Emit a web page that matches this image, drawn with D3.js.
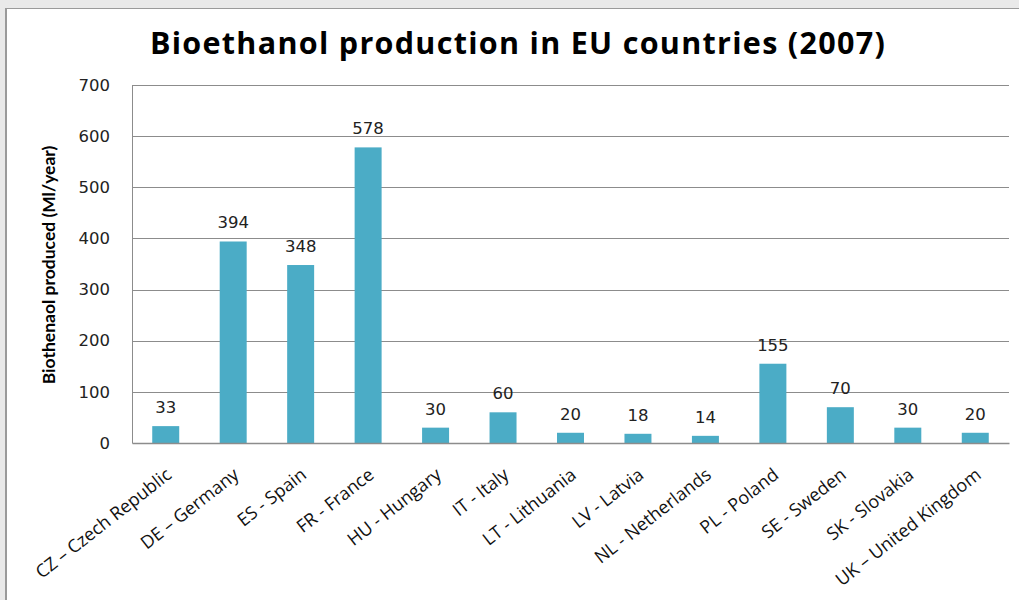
<!DOCTYPE html>
<html>
<head>
<meta charset="utf-8">
<script src="https://cdn.jsdelivr.net/npm/d3@7"></script>
<style>
  body { margin: 0; background: #e9e9e9; }
  svg { display: block; }
</style>
</head>
<body>
<div id="chart"></div>
<script>
// data
const countries = ["CZ \u2013 Czech Republic", "DE \u2013 Germany", "ES - Spain", "FR - France",
  "HU - Hungary", "IT - Italy", "LT - Lithuania", "LV - Latvia", "NL - Netherlands",
  "PL - Poland", "SE - Sweden", "SK - Slovakia", "UK \u2013 United Kingdom"];
const production = [33, 394, 348, 578, 30, 60, 20, 18, 14, 155, 70, 30, 20];
const yTicks = [0, 100, 200, 300, 400, 500, 600, 700];

const width = 1019, height = 600;
const margin = { top: 85, right: 10, bottom: 157, left: 132 };

const svg = d3.select("#chart")
  .append("svg")
  .attr("width", width)
  .attr("height", height);

// chart frame
svg.append("rect")
  .attr("x", 6)
  .attr("y", 8.5)
  .attr("width", width)
  .attr("height", height)
  .attr("fill", "white")
  .attr("stroke", "#9a9a9a")
  .attr("stroke-width", 1);
svg.append("line")
  .attr("x1", 6).attr("x2", 6)
  .attr("y1", 8).attr("y2", height)
  .attr("stroke", "#9a9a9a")
  .attr("stroke-width", 2);

// title
svg.append("text")
  .attr("x", 518)
  .attr("y", 54)
  .attr("text-anchor", "middle")
  .style("font-family", "'Open Sans', sans-serif")
  .style("font-weight", "bold")
  .style("font-size", "30.5px")
  .style("letter-spacing", "1.3px")
  .text("Bioethanol production in EU countries (2007)");

const x = d3.scaleBand()
  .domain(countries)
  .range([margin.left, width - margin.right])
  .paddingInner(0.6)
  .paddingOuter(0.3);

const y = d3.scaleLinear()
  .domain([0, 700])
  .range([height - margin.bottom, margin.top]);

// gridlines
svg.append("g")
  .selectAll("line")
  .data(yTicks.slice(1))
  .enter()
  .append("line")
  .attr("x1", margin.left)
  .attr("x2", width - margin.right)
  .attr("y1", (d) => Math.round(y(d)) + 0.5)
  .attr("y2", (d) => Math.round(y(d)) + 0.5)
  .attr("stroke", "#8c8c8c")
  .attr("stroke-width", 1);

// bars
svg.append("g")
  .selectAll("rect")
  .data(production)
  .enter()
  .append("rect")
  .attr("x", (d, i) => x(countries[i]))
  .attr("y", (d) => y(d))
  .attr("width", x.bandwidth())
  .attr("height", (d) => y(0) - y(d))
  .attr("fill", "#4bacc6");

// value labels
svg.append("g")
  .selectAll("text")
  .data(production)
  .enter()
  .append("text")
  .attr("x", (d, i) => x(countries[i]) + x.bandwidth() / 2)
  .attr("y", (d) => y(d) - 13)
  .attr("text-anchor", "middle")
  .style("font-family", "'DejaVu Sans', sans-serif")
  .style("font-size", "16.5px")
  .attr("fill", "#222")
  .text((d) => d);

// y axis
const yAxis = svg.append("g")
  .attr("transform", `translate(${margin.left},0)`)
  .call(d3.axisLeft(y).tickValues(yTicks).tickSize(0).tickPadding(22));
yAxis.select(".domain").attr("stroke", "#8c8c8c");
yAxis.selectAll("text")
  .style("font-family", "'DejaVu Sans', sans-serif")
  .style("font-size", "16.5px")
  .attr("fill", "#222");

// x axis
const xAxis = svg.append("g")
  .attr("transform", `translate(0,${height - margin.bottom})`)
  .call(d3.axisBottom(x).tickSize(0).tickPadding(0));
xAxis.select(".domain").attr("stroke", "#8c8c8c").attr("stroke-width", 1.5);
xAxis.selectAll("text")
  .attr("text-anchor", "end")
  .attr("dy", null)
  .attr("y", 0)
  .attr("transform", "translate(7,34) rotate(-38)")
  .style("font-family", "'Open Sans', sans-serif")
  .style("font-size", "18px")
  .attr("fill", "#111");

// y axis label
svg.append("text")
  .attr("transform", `translate(55,265) rotate(-90)`)
  .attr("text-anchor", "middle")
  .style("font-family", "'Liberation Sans Narrow', Lato, sans-serif")
  .style("font-weight", "bold")
  .style("font-size", "17.5px")
  .text("Biothenaol produced (Ml/year)");
</script>
</body>
</html>
